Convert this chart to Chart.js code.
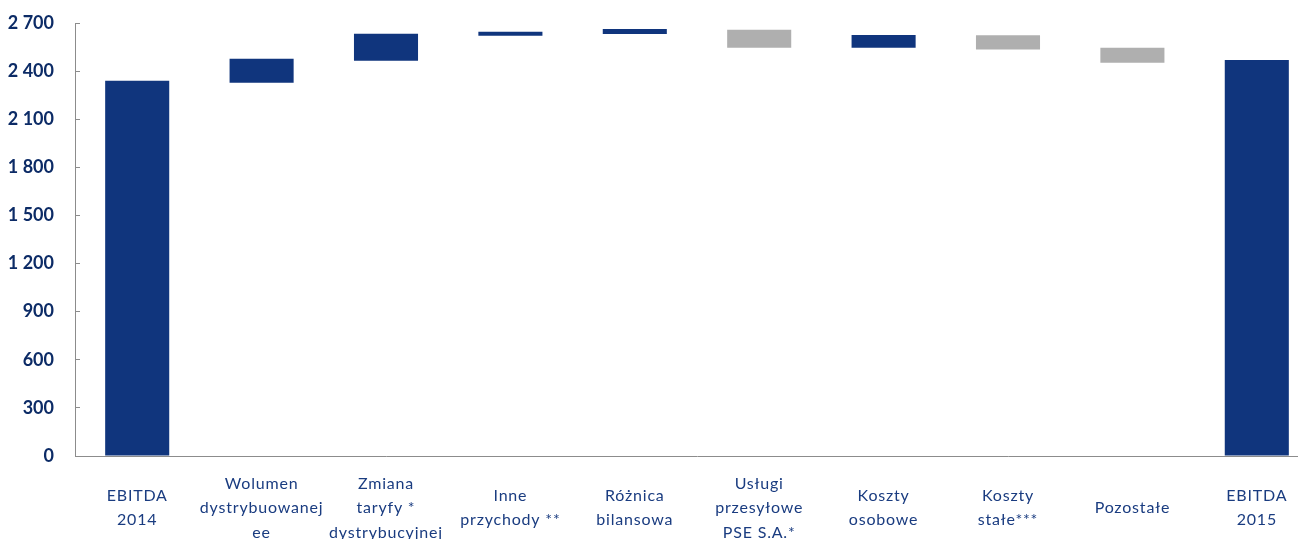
<!DOCTYPE html>
<html>
<head>
<meta charset="utf-8">
<script src="https://cdn.jsdelivr.net/npm/chart.js@4"></script>
<style>
  html, body { margin: 0; padding: 0; background: #fff; overflow: hidden; }
  #wrap { position: absolute; left: 0; top: 0; width: 1319px; height: 570px; }
</style>
</head>
<body>
<div id="wrap"><canvas id="ebitda"></canvas></div>
<script>
const categories = [
  ['EBITDA', '2014'],
  ['Wolumen', 'dystrybuowanej', 'ee'],
  ['Zmiana', 'taryfy *', 'dystrybucyjnej'],
  ['Inne', 'przychody **'],
  ['Różnica', 'bilansowa'],
  ['Usługi', 'przesyłowe', 'PSE S.A.*'],
  ['Koszty', 'osobowe'],
  ['Koszty', 'stałe***'],
  'Pozostałe',
  ['EBITDA', '2015']
]
const barStart = [0, 2328, 2465, 2621, 2631, 2546, 2546, 2535, 2452, 0]
const barEnd = [2340, 2477, 2633, 2646, 2663, 2658, 2625, 2623, 2546, 2469]
const stepKind = ['total', 'up', 'up', 'up', 'up', 'down', 'up', 'down', 'down', 'total']
const yTicks = [0, 300, 600, 900, 1200, 1500, 1800, 2100, 2400, 2700]

const navy = '#10357d'
const grey = '#afafaf'

// spaced-out category labels, like the original slide
const spacedLabels = {
  id: 'spacedLabels',
  afterLayout(chart) {
    const s = chart.scales.x
    if (s._spaced) return
    const orig = s.drawLabels.bind(s)
    s.drawLabels = area => {
      chart.ctx.save()
      chart.ctx.letterSpacing = '0.8px'
      orig(area)
      chart.ctx.restore()
    }
    s._spaced = true
  }
}

const ctx = document.getElementById('ebitda')

const config = {
  type: 'bar',
  data: {
    labels: categories,
    datasets: [{
      data: barStart.map((s, i) => [s, barEnd[i]]),
      backgroundColor: stepKind.map(k => k === 'down' ? grey : navy),
      borderWidth: 0,
      categoryPercentage: 1,
      barPercentage: 0.515
    }]
  },
  options: {
    responsive: true,
    maintainAspectRatio: false,
    animation: false,
    layout: { padding: { top: 23, right: 0, bottom: 0, left: 0 } },
    plugins: {
      legend: { display: false },
      tooltip: { enabled: false }
    },
    scales: {
      x: {
        grid: { display: false, drawTicks: false },
        border: { display: true, color: '#8c8c8c', width: 1 },
        ticks: {
          autoSkip: false,
          maxRotation: 0,
          crossAlign: 'center',
          padding: 27.5,
          color: '#1a3c80',
          font: { family: 'Lato', size: 16, lineHeight: 1.53 }
        },
        afterFit: scale => { scale.height = 570 - 456 }
      },
      y: {
        min: 0,
        max: 2700,
        afterBuildTicks: scale => { scale.ticks = yTicks.map(v => ({ value: v })) },
        grid: { drawOnChartArea: false, drawTicks: true, tickLength: -5, color: '#8c8c8c' },
        border: { display: true, color: '#8c8c8c', width: 1 },
        ticks: {
          padding: 26,
          color: '#0c2b66',
          font: { family: 'Lato', size: 18, weight: 'bold' },
          callback: v => String(v).replace(/\B(?=(\d{3})+(?!\d))/g, ' ')
        },
        afterFit: scale => {
          scale.width = 75
          scale.paddingTop = 0
          scale.paddingBottom = 0
        }
      }
    }
  },
  plugins: [spacedLabels]
}

const ebitdaChart = new Chart(ctx, config)
</script>
</body>
</html>
